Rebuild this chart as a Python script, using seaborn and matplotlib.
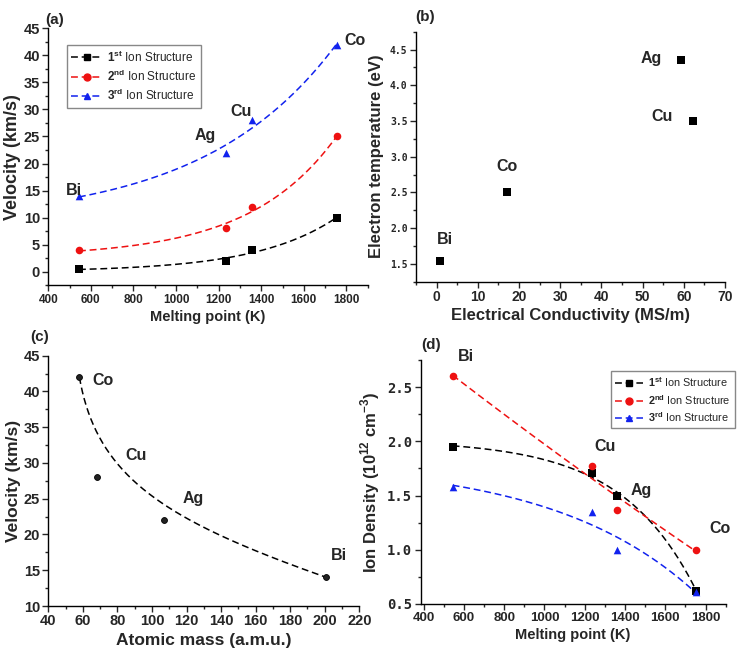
import numpy as np
import matplotlib.pyplot as plt
import seaborn as sns
from math import comb
from matplotlib.ticker import MultipleLocator
from matplotlib.lines import Line2D

sns.set_style('ticks')
plt.rcParams['font.family'] = ['Liberation Sans', 'DejaVu Sans']
plt.rcParams['mathtext.fontset'] = 'custom'
plt.rcParams['mathtext.rm'] = 'Liberation Sans'
plt.rcParams['mathtext.bf'] = 'Liberation Sans:bold'
plt.rcParams['axes.linewidth'] = 1.0
plt.rcParams['axes.edgecolor'] = 'black'

# (a) and (d): melting point
elements = ['Bi', 'Ag', 'Cu', 'Co']
melting_point = [544, 1235, 1358, 1755]
vel_1st = [0.5, 2, 4, 10]
vel_2nd = [4, 8, 12, 25]
vel_3rd = [14, 22, 28, 42]
dens_1st = [1.95, 1.71, 1.50, 0.62]
dens_2nd = [2.60, 1.77, 1.37, 1.00]
dens_3rd = [1.58, 1.35, 1.00, 0.61]

# (b) conductivity
cond_elements = ['Bi', 'Co', 'Ag', 'Cu']
conductivity = [0.8, 17, 59.4, 62.3]
electron_temp = [1.54, 2.5, 4.35, 3.5]

# (c) atomic mass
mass_elements = ['Co', 'Cu', 'Ag', 'Bi']
atomic_mass = [58, 68, 107, 201]
vel_mass = [42, 28, 22, 14]

series_labels = [r'$\mathbf{1^{st}}$ Ion Structure',
                 r'$\mathbf{2^{nd}}$ Ion Structure',
                 r'$\mathbf{3^{rd}}$ Ion Structure']
colors = ['black', '#ee1111', '#1122ee']
markers = ['s', 'o', '^']
dash = (4.5, 2.5)
mono = ['DejaVu Sans Mono']
sans = ['Liberation Sans']

fig = plt.figure(figsize=(7.41, 6.56), dpi=100)
ax_a = fig.add_axes([0.0652, 0.5652, 0.4310, 0.3917])
ax_b = fig.add_axes([0.5614, 0.5706, 0.4170, 0.3811])
ax_c = fig.add_axes([0.0652, 0.0762, 0.4197, 0.3816])
ax_d = fig.add_axes([0.5677, 0.0793, 0.4116, 0.3720])


def fit3(x, y, basis, grid):
    # least squares y = c + A * basis(x, p), best p on a grid
    x = np.asarray(x, float)
    y = np.asarray(y, float)
    best = None
    for p in grid:
        M = np.column_stack([np.ones_like(x), basis(x, p)])
        sol = np.linalg.lstsq(M, y, rcond=None)[0]
        err = np.sum((M @ sol - y) ** 2)
        if best is None or err < best[0]:
            best = (err, p, sol)
    _, p, sol = best
    return lambda t: sol[0] + sol[1] * basis(np.asarray(t, float), p)


def exp_basis(x, k):
    return np.exp(k * (x - 1000) / 1000)


def bspline(xs, ys, n=200):
    # Bezier curve with the data points as control points
    t = np.linspace(0, 1, n)
    deg = len(xs) - 1
    w = np.array([comb(deg, i) * t ** i * (1 - t) ** (deg - i) for i in range(deg + 1)])
    return w.T @ np.asarray(xs, float), w.T @ np.asarray(ys, float)


k_grid = [k for k in np.linspace(-8, 8, 321) if abs(k) > 1e-6]


def style_ticks(ax, xfont, yfont, xsize, ysize):
    ax.tick_params(which='major', direction='out', length=4, width=1, pad=2)
    ax.tick_params(which='minor', direction='out', length=2, width=1)
    plt.setp(ax.get_xticklabels(), family=xfont, fontsize=xsize, fontweight='bold')
    plt.setp(ax.get_yticklabels(), family=yfont, fontsize=ysize, fontweight='bold')
    sns.despine(ax=ax)


def fit_series(ax, x, ys):
    grid = np.linspace(min(x), max(x), 200)
    for y, c, m in zip(ys, colors, markers):
        f = fit3(x, y, exp_basis, k_grid)
        sns.lineplot(x=grid, y=f(grid), ax=ax, color=c, lw=1.1,
                     linestyle=(0, dash), zorder=2)
        sns.scatterplot(x=x, y=y, ax=ax, color=c, marker=m, s=30,
                        linewidth=0, zorder=3)


def make_legend(ax, anchor, size):
    handles = [Line2D([], [], color=c, marker=m, ms=5, lw=1.1, dashes=dash)
               for c, m in zip(colors, markers)]
    ax.legend(handles, series_labels, loc='upper left', bbox_to_anchor=anchor,
              bbox_transform=fig.transFigure, fontsize=size, frameon=True,
              fancybox=False, edgecolor='#888888', framealpha=1,
              handlelength=2.6, borderpad=0.4, labelspacing=0.35,
              handletextpad=0.4)


# ---- (a)
fit_series(ax_a, melting_point, [vel_1st, vel_2nd, vel_3rd])
ax_a.set_xlim(400, 1900)
ax_a.set_ylim(-2.5, 45)
ax_a.xaxis.set_major_locator(MultipleLocator(200))
ax_a.xaxis.set_minor_locator(MultipleLocator(100))
ax_a.yaxis.set_major_locator(MultipleLocator(5))
ax_a.yaxis.set_minor_locator(MultipleLocator(2.5))
ax_a.set_xlabel('Melting point (K)', fontsize=10.5, fontweight='bold', labelpad=3)
ax_a.set_ylabel('Velocity (km/s)', fontsize=13, fontweight='bold', labelpad=2)
style_ticks(ax_a, sans, sans, 8.5, 10.5)
for t, x, y in zip(['Bi', 'Ag', 'Cu', 'Co'], [522, 1136, 1304, 1840], [15.1, 25.1, 29.6, 42.8]):
    ax_a.text(x, y, t, fontsize=11.5, fontweight='bold', ha='center', va='center')
make_legend(ax_a, (0.082, 0.941), 8.5)
fig.text(0.074, 0.97, '(a)', fontsize=11, fontweight='bold', ha='center', va='center')

# ---- (b)
sns.scatterplot(x=conductivity, y=electron_temp, ax=ax_b, marker='s', color='black',
                s=30, linewidth=0)
ax_b.set_xlim(-5, 70)
ax_b.xaxis.set_major_locator(MultipleLocator(10))
ax_b.xaxis.set_minor_locator(MultipleLocator(5))
ax_b.yaxis.set_major_locator(MultipleLocator(0.5))
ax_b.yaxis.set_minor_locator(MultipleLocator(0.25))
ax_b.set_yticks([1.5, 2.0, 2.5, 3.0, 3.5, 4.0, 4.5])
ax_b.set_ylim(1.25, 4.75)
ax_b.set_xlabel('Electrical Conductivity (MS/m)', fontsize=12, fontweight='bold', labelpad=3)
ax_b.set_ylabel('Electron temperature (eV)', fontsize=12, fontweight='bold', labelpad=4)
style_ticks(ax_b, sans, mono, 10, 7)
for t, x, y in zip(cond_elements, [2.1, 17.2, 52.0, 54.8], [1.84, 2.86, 4.38, 3.56]):
    ax_b.text(x, y, t, fontsize=11.5, fontweight='bold', ha='center', va='center')
fig.text(0.574, 0.974, '(b)', fontsize=11, fontweight='bold', ha='center', va='center')

# ---- (c)
curve_x, curve_y = bspline(atomic_mass, vel_mass)
sns.lineplot(x=curve_x, y=curve_y, ax=ax_c, color='black', lw=1.1,
             linestyle=(0, dash), sort=False)
sns.scatterplot(x=atomic_mass, y=vel_mass, ax=ax_c, marker='o', color='#222222',
                s=18, edgecolor='black', linewidth=0.6, zorder=3)
ax_c.set_xlim(40, 220)
ax_c.set_ylim(10, 45)
ax_c.xaxis.set_major_locator(MultipleLocator(20))
ax_c.xaxis.set_minor_locator(MultipleLocator(10))
ax_c.yaxis.set_major_locator(MultipleLocator(5))
ax_c.yaxis.set_minor_locator(MultipleLocator(2.5))
ax_c.set_xlabel('Atomic mass (a.m.u.)', fontsize=12.5, fontweight='bold', labelpad=3)
ax_c.set_ylabel('Velocity (km/s)', fontsize=12.5, fontweight='bold', labelpad=2)
style_ticks(ax_c, sans, sans, 10.5, 10.5)
for t, x, y in zip(mass_elements, [71.8, 90.6, 123.9, 208.4], [41.6, 31.0, 25.1, 17.0]):
    ax_c.text(x, y, t, fontsize=11.5, fontweight='bold', ha='center', va='center')
fig.text(0.054, 0.487, '(c)', fontsize=11, fontweight='bold', ha='center', va='center')

# ---- (d)
fit_series(ax_d, melting_point, [dens_1st, dens_2nd, dens_3rd])
ax_d.set_ylim(0.5, 2.75)
ax_d.xaxis.set_major_locator(MultipleLocator(200))
ax_d.xaxis.set_minor_locator(MultipleLocator(100))
ax_d.yaxis.set_major_locator(MultipleLocator(0.5))
ax_d.yaxis.set_minor_locator(MultipleLocator(0.25))
ax_d.set_xticks(range(400, 1801, 200))
ax_d.set_xlim(385, 1900)
ax_d.set_xlabel('Melting point (K)', fontsize=10.5, fontweight='bold', labelpad=3)
ax_d.set_ylabel(r'Ion Density (10$^{\mathbf{12}}$ cm$^{\mathbf{-3}}$)', fontsize=12,
                fontweight='bold', labelpad=4)
style_ticks(ax_d, sans, mono, 9.5, 10)
for t, x, y in zip(['Bi', 'Cu', 'Ag', 'Co'], [610, 1302, 1481, 1871], [2.78, 1.95, 1.55, 1.20]):
    ax_d.text(x, y, t, fontsize=11.5, fontweight='bold', ha='center', va='center')
make_legend(ax_d, (0.817, 0.443), 7.8)
fig.text(0.582, 0.474, '(d)', fontsize=11, fontweight='bold', ha='center', va='center')

fig.savefig('out.png', dpi=100)
